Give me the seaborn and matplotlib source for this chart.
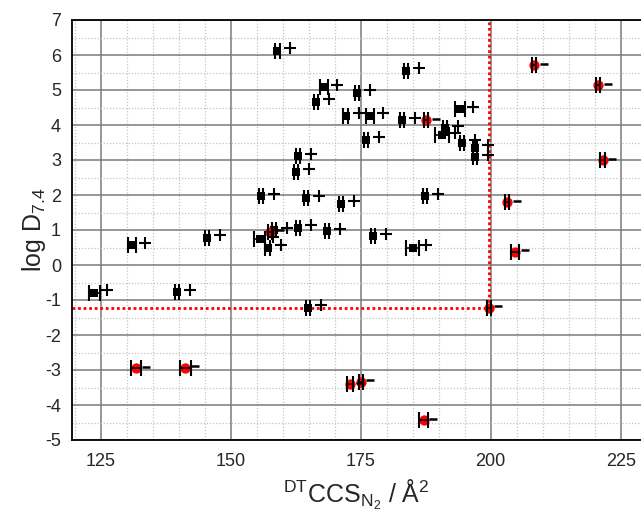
import numpy as np
import pandas as pd
import matplotlib
matplotlib.use("Agg")
import matplotlib.pyplot as plt
import seaborn as sns
from matplotlib.transforms import ScaledTranslation
from matplotlib.ticker import MultipleLocator

# Black squares (with "+" flag)
sq_ccs = [159.0, 168.0, 166.4, 174.3, 172.1, 176.8, 176.0, 163.0, 183.7, 182.9,
          194.1, 191.2, 190.6, 194.5, 197.0, 197.0, 187.4, 171.2, 177.3, 185.0,
          123.8, 139.7, 131.0, 145.4, 155.6, 157.1, 158.3, 155.9, 162.5, 164.5,
          163.0, 168.6, 164.8]
sq_logd = [6.12, 5.08, 4.67, 4.92, 4.26, 4.26, 3.58, 3.11, 5.55, 4.14,
           4.45, 3.91, 3.71, 3.50, 3.35, 3.08, 1.96, 1.75, 0.82, 0.49,
           -0.79, -0.78, 0.57, 0.78, 0.73, 0.50, 1.00, 1.97, 2.67, 1.91,
           1.07, 0.97, -1.22]
sq_err = [0.4, 0.8, 0.4, 0.4, 0.4, 0.8, 0.4, 0.4, 0.4, 0.4,
          0.9, 0.4, 1.3, 0.4, 0.4, 0.4, 0.4, 0.4, 0.4, 1.3,
          1.0, 0.4, 0.75, 0.4, 1.1, 0.4, 0.4, 0.4, 0.4, 0.4,
          0.4, 0.4, 0.4]

# Red circles (with "-" flag)
rd_ccs = [208.4, 220.6, 221.5, 203.1, 204.7, 199.6, 173.0, 175.0, 187.1,
          131.8, 141.3, 187.6, 157.6]
rd_logd = [5.71, 5.14, 3.00, 1.79, 0.38, -1.22, -3.41, -3.33, -4.43,
           -2.95, -2.93, 4.14, 0.95]
rd_err = [0.4, 0.4, 0.4, 0.4, 0.8, 0.4, 0.6, 0.4, 0.9,
          1.0, 1.1, 0.4, 0.4]

cut_ccs = 199.7
cut_logd = -1.23

x_ticks = [125, 150, 175, 200, 225]
y_ticks = list(range(-5, 8))

sns.set_style("white")
plt.rcParams['font.family'] = ['Liberation Sans', 'DejaVu Sans']
plt.rcParams['mathtext.fontset'] = 'custom'
plt.rcParams['mathtext.rm'] = 'Liberation Sans'
plt.rcParams['mathtext.it'] = 'Liberation Sans'

W, H = 641, 515
fig = plt.figure(figsize=(W / 100, H / 100), dpi=100)
ax = fig.add_axes([72 / W, (H - 440) / H, (W - 72) / W, (440 - 20) / H])

sq = pd.DataFrame({"ccs": sq_ccs, "logd": sq_logd})
rd = pd.DataFrame({"ccs": rd_ccs, "logd": rd_logd})

ax.set_xlim(119.5, 228.9)
ax.set_ylim(-5, 7)

sns.scatterplot(data=sq, x="ccs", y="logd", marker="s", s=36, color="black",
                edgecolor="black", linewidth=0, ax=ax, zorder=3)
sns.scatterplot(data=rd, x="ccs", y="logd", marker="o", s=55, color="#ff0000",
                linewidth=0, ax=ax, zorder=3)
ax.errorbar(sq_ccs, sq_logd, xerr=sq_err, fmt="none", ecolor="black",
            elinewidth=1.2, capsize=5.5, capthick=1.5, zorder=4)
ax.errorbar(rd_ccs, rd_logd, xerr=rd_err, fmt="none", ecolor="black",
            elinewidth=1.2, capsize=5.5, capthick=1.5, zorder=4)

plus_tr = ax.transData + ScaledTranslation(0.13, 0.025, fig.dpi_scale_trans)
minus_tr = ax.transData + ScaledTranslation(0.097, 0.015, fig.dpi_scale_trans)
ax.plot(sq_ccs, sq_logd, ls="none", marker="+", ms=8.5, mew=1.5, color="black",
        transform=plus_tr, zorder=4)
ax.plot(rd_ccs, rd_logd, ls="none", marker="_", ms=5.2, mew=1.8, color="black",
        transform=minus_tr, zorder=4)

ax.plot([cut_ccs, cut_ccs], [cut_logd, 7], color="red", ls=(0, (1, 1)), lw=2, zorder=2)
ax.plot([119.5, cut_ccs], [cut_logd, cut_logd], color="red", ls=(0, (1, 1)), lw=2, zorder=2)

ax.set_xticks(x_ticks)
ax.set_yticks(y_ticks)
ax.xaxis.set_minor_locator(MultipleLocator(5))
ax.yaxis.set_minor_locator(MultipleLocator(0.5))
ax.set_axisbelow(True)
ax.grid(which="major", color="#7a7a7a", lw=1.1, ls="-")
ax.grid(which="minor", color="#c4c4c4", lw=0.9, ls=(0, (1, 1.5)))

for s in ["left", "bottom", "top"]:
    ax.spines[s].set_visible(True)
    ax.spines[s].set_color("black")
    ax.spines[s].set_linewidth(1.3)
ax.spines["right"].set_visible(False)

ax.tick_params(axis="both", which="major", direction="out", length=7, width=1.2,
               labelsize=13, color="black", pad=2)
ax.tick_params(axis="y", which="major", pad=1)
ax.tick_params(axis="both", which="minor", direction="out", length=4, width=1.0,
               color="black")
ax.tick_params(top=False, right=False, which="both")
ax.set_yticklabels([str(v) for v in y_ticks])

ax.set_xlabel(r"$^{\mathrm{DT}}$CCS$_{\mathrm{N_2}}$ / Å$^{2}$", fontsize=18, labelpad=6)
ax.set_ylabel(r"log D$_{7.4}$", fontsize=18, labelpad=-2)

fig.savefig("out.png", dpi=100)
